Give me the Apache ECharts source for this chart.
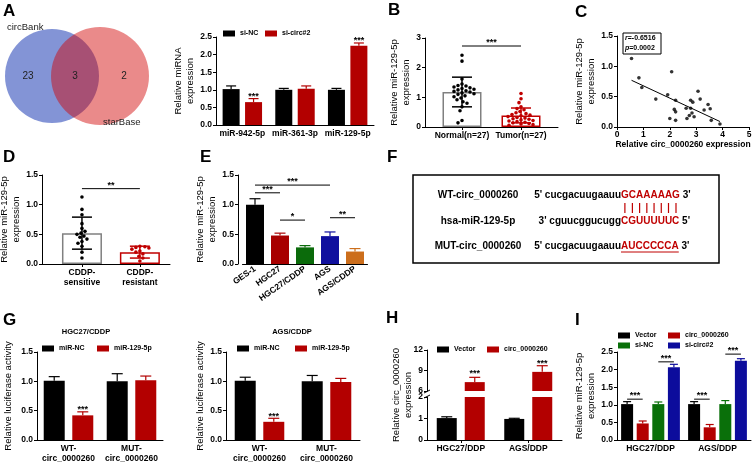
<!DOCTYPE html>
<html><head><meta charset="utf-8">
<script src="https://cdn.jsdelivr.net/npm/echarts@6/dist/echarts.min.js"></script>
<style>html,body{margin:0;padding:0;background:#fff}#c{width:753px;height:464px}</style>
</head><body><div id="c"></div><script>
/* ---------------- DATA ---------------- */
const vennSets = ['circBank', 'starBase'];
const vennCounts = [23, 3, 2];

const aCats = ['miR-942-5p', 'miR-361-3p', 'miR-129-5p'];
const aSiNC = [1.02, 1.00, 1.00];
const aSiNCErr = [0.09, 0.04, 0.04];
const aSiCirc = [0.65, 1.03, 2.25];
const aSiCircErr = [0.10, 0.08, 0.08];
const aStars = [[0, 1, 0.86, '***'], [2, 1, 2.47, '***']];

const bCats = ['Normal(n=27)', 'Tumor(n=27)'];
const bNormal = [2.42, 2.22, 1.62, 1.45, 1.40, 1.38, 1.35, 1.32, 1.30, 1.27, 1.25, 1.22, 1.20, 1.18, 1.15, 1.12, 1.10, 1.05, 1.02, 0.98, 0.92, 0.85, 0.80, 0.68, 0.55, 0.22, 0.14];
const bTumor = [1.13, 0.95, 0.82, 0.68, 0.62, 0.58, 0.52, 0.48, 0.45, 0.42, 0.40, 0.38, 0.35, 0.32, 0.30, 0.28, 0.26, 0.24, 0.22, 0.20, 0.18, 0.16, 0.14, 0.12, 0.10, 0.08, 0.06];
const bMean = [1.18, 0.39];
const bSD = [0.50, 0.25];
const bSig = [[1, 0, 2, 0, 2.73, '***']];

const cCirc = [0.55, 0.83, 0.94, 1.47, 2.07, 1.92, 2.22, 2.17, 2.22, 2.00, 2.22, 2.62, 2.65, 2.74, 2.79, 2.87, 2.79, 2.84, 2.92, 3.07, 3.15, 3.30, 3.45, 3.53, 3.57, 3.90];
const cMir = [1.13, 0.81, 0.65, 0.46, 0.91, 0.53, 0.44, 0.29, 0.25, 0.14, 0.11, 0.31, 0.14, 0.19, 0.44, 0.41, 0.31, 0.23, 0.17, 0.59, 0.46, 0.28, 0.37, 0.30, 0.11, 0.05];
const cFitX = [0.55, 3.90];
const cFitY = [0.77, 0.09];
const cStats = ['-0.6516', '0.0002'];

const dCats = ['CDDP-\nsensitive', 'CDDP-\nresistant'];
const dSensitive = [1.13, 0.92, 0.83, 0.68, 0.60, 0.55, 0.52, 0.50, 0.47, 0.45, 0.42, 0.38, 0.35, 0.30, 0.20, 0.10];
const dResistant = [0.30, 0.29, 0.28, 0.27, 0.25, 0.22, 0.20, 0.17, 0.13, 0.10, 0.05];
const dMean = [0.52, 0.20];
const dSD = [0.27, 0.10];
const dSig = [[1, 0, 2, 0, 1.27, '**']];

const eCats = ['GES-1', 'HGC27', 'HGC27/CDDP', 'AGS', 'AGS/CDDP'];
const eMean = [1.00, 0.48, 0.28, 0.47, 0.21];
const eErr = [0.10, 0.04, 0.03, 0.07, 0.05];
const eSig = [[0, 0, 3, 0, 1.33, '***'], [0, 0, 1, 0, 1.20, '***'], [1, 0, 2, 0, 0.74, '*'], [3, 0, 4, 0, 0.78, '**']];

const fLabels = ['WT-circ_0000260', 'hsa-miR-129-5p', 'MUT-circ_0000260'];
const fPrefix = ["5' cucgacuugaauu", "3' cguucggucugg", "5' cucgacuugaauu"];
const fSite = ['GCAAAAAG', 'CGUUUUUC', 'AUCCCCCA'];
const fSuffix = ["3'", "5'", "3'"];

const gCats = ['WT-\ncirc_0000260', 'MUT-\ncirc_0000260'];
const gTitles = ['HGC27/CDDP', 'AGS/CDDP'];
const gHgcNC = [1.01, 1.00], gHgcNCErr = [0.07, 0.13];
const gHgcMiR = [0.42, 1.02], gHgcMiRErr = [0.06, 0.07];
const gAgsNC = [1.01, 1.00], gAgsNCErr = [0.06, 0.10];
const gAgsMiR = [0.31, 0.99], gAgsMiRErr = [0.06, 0.06];
const gHgcStars = [[0, 1, 0.55, '***']];
const gAgsStars = [[0, 1, 0.43, '***']];

const hCats = ['HGC27/DDP', 'AGS/DDP'];
const hVector = [1.02, 0.98], hVectorErr = [0.06, 0.03];
const hCirc = [7.3, 8.8], hCircErr = [0.7, 0.9];
const hStars = [[0, 1, 8.78, '***'], [1, 1, 10.25, '***']];

const iCats = ['HGC27/DDP', 'AGS/DDP'];
const iVector = [1.02, 1.02], iVectorErr = [0.07, 0.07];
const iCirc = [0.47, 0.36], iCircErr = [0.07, 0.08];
const iSiNC = [1.02, 1.02], iSiNCErr = [0.06, 0.10];
const iSiCirc = [2.07, 2.25], iSiCircErr = [0.08, 0.06];
const iSig = [[0, 0, 0, 1, 1.16, '***'], [0, 2, 0, 3, 2.22, '***'], [1, 0, 1, 1, 1.16, '***'], [1, 2, 1, 3, 2.44, '***']];

/* ---------------- HELPERS ---------------- */
const FONT = '"Liberation Sans", Arial, Helvetica, sans-serif';
const RED = '#b30000';
const TICK = {fontFamily: FONT, fontSize: 8.5, fontWeight: 'bold', color: '#000'};
const TITLE = {fontFamily: FONT, fontSize: 9.5, color: '#000', lineHeight: 12};
const grids = [], xAxes = [], yAxes = [], series = [], legends = [], graphics = [];

function G(left, top, width, height) {
  grids.push({left, top, width, height, containLabel: false, outerBoundsMode: 'none'});
  return grids.length - 1;
}
function axLine() { return {show: true, onZero: false, lineStyle: {color: '#000', width: 1}}; }
function xCat(gi, cats, labelExtra, ticks) {
  return {type: 'category', gridIndex: gi, data: cats, boundaryGap: true,
    axisLine: axLine(),
    axisTick: {show: !!ticks, alignWithLabel: true, length: 3, lineStyle: {color: '#000'}},
    axisLabel: Object.assign({interval: 0, margin: 4, lineHeight: 10}, TICK, labelExtra || {}),
    splitLine: {show: false}};
}
function xValCat(gi, min, max, cats) {
  return {type: 'value', gridIndex: gi, min, max,
    axisLine: axLine(),
    axisTick: {show: true, length: 3, customValues: [1, 2], lineStyle: {color: '#000'}},
    axisLabel: Object.assign({margin: 4, lineHeight: 10, customValues: [1, 2],
      formatter: v => (Math.abs(v - Math.round(v)) < 1e-6 && cats[Math.round(v) - 1]) || ''}, TICK),
    splitLine: {show: false}};
}
function yVal(gi, min, max, interval, dec, name, gap, extra) {
  return Object.assign({type: 'value', gridIndex: gi, min, max, interval,
    axisLine: axLine(),
    axisTick: {show: true, length: 3, lineStyle: {color: '#000'}},
    splitLine: {show: false},
    axisLabel: Object.assign({margin: 4, formatter: v => v.toFixed(dec)}, TICK),
    name: name || '', nameLocation: 'middle', nameGap: gap || 0, nameTextStyle: TITLE}, extra || {});
}
function barOffset(n, w, gr, i) {
  const gap = w * gr; const total = n * w + (n - 1) * gap;
  return -total / 2 + i * (w + gap) + w / 2;
}
function addBar(gi, name, vals, color, w, gr) {
  series.push({type: 'bar', name, xAxisIndex: gi, yAxisIndex: gi, data: vals.slice(),
    barWidth: w, barGap: (gr * 100) + '%', itemStyle: {color}, z: 2, silent: true, clip: true});
}
function addErr(gi, xBase, means, errs, n, i, w, gr, color, both, cap, lw) {
  series.push({type: 'custom', xAxisIndex: gi, yAxisIndex: gi, clip: true, z: 4, silent: true,
    data: means.map((m, k) => [k + xBase, m, errs[k]]),
    renderItem: (p, api) => {
      const c = api.value(0), m = api.value(1), e = api.value(2);
      const col = Array.isArray(color) ? color[p.dataIndex] : color;
      const pm = api.coord([c, m]);
      const x = pm[0] + barOffset(n, w, gr, i);
      const yT = api.coord([c, m + e])[1];
      const yB = both ? api.coord([c, m - e])[1] : pm[1];
      const h = cap / 2, st = {stroke: col, lineWidth: lw};
      const ch = [{type: 'line', shape: {x1: x, y1: yB, x2: x, y2: yT}, style: st},
                  {type: 'line', shape: {x1: x - h, y1: yT, x2: x + h, y2: yT}, style: st}];
      if (both) ch.push({type: 'line', shape: {x1: x - h, y1: yB, x2: x + h, y2: yB}, style: st});
      return {type: 'group', children: ch};
    }});
}
function addSig(gi, items, n, w, gr, fs) {
  series.push({type: 'custom', xAxisIndex: gi, yAxisIndex: gi, clip: false, z: 6, silent: true,
    data: items.map(it => [it[0], it[4], it[1], it[2], it[3]]),
    renderItem: (p, api) => {
      const it = items[p.dataIndex];
      const pA = api.coord([it[0], it[4]]), pB = api.coord([it[2], it[4]]);
      const xA = pA[0] + barOffset(n, w, gr, it[1]), xB = pB[0] + barOffset(n, w, gr, it[3]);
      const y = pA[1];
      return {type: 'group', children: [
        {type: 'line', shape: {x1: xA, y1: y, x2: xB, y2: y}, style: {stroke: '#000', lineWidth: 1}},
        {type: 'text', x: (xA + xB) / 2, y: y - 3.5,
          style: {text: it[5], fill: '#000', font: 'bold ' + fs + 'px ' + FONT, align: 'center', verticalAlign: 'middle'}}]};
    }});
}
function addStars(gi, items, n, w, gr, fs) {
  series.push({type: 'custom', xAxisIndex: gi, yAxisIndex: gi, clip: false, z: 6, silent: true,
    data: items.map(it => [it[0], it[2], it[1]]),
    renderItem: (p, api) => {
      const it = items[p.dataIndex];
      const pt = api.coord([it[0], it[2]]);
      return {type: 'text', x: pt[0] + barOffset(n, w, gr, it[1]), y: pt[1] + 0.22 * fs,
        style: {text: it[3], fill: '#000', font: 'bold ' + fs + 'px ' + FONT, align: 'center', verticalAlign: 'middle'}};
    }});
}
function swarm(vals, ppu, d) {
  const placed = [], out = [];
  vals.forEach((v, idx) => {
    const y = v * ppu; let best = 0;
    for (let s = 0; s < 80; s++) {
      const cands = s === 0 ? [0] : (idx % 2 ? [s, -s] : [-s, s]);
      let found = null;
      for (const dx of cands) {
        if (placed.every(q => (q[0] - dx) * (q[0] - dx) + (q[1] - y) * (q[1] - y) >= d * d)) { found = dx; break; }
      }
      if (found !== null) { best = found; break; }
    }
    placed.push([best, y]); out.push(best);
  });
  return out;
}
function addDots(gi, xv, vals, color, size, ppu) {
  const offs = swarm(vals, ppu, size + 0.5);
  series.push({type: 'custom', xAxisIndex: gi, yAxisIndex: gi, z: 3, silent: true,
    data: vals.map((v, k) => [xv, v, offs[k]]),
    renderItem: (p, api) => {
      const pt = api.coord([api.value(0), api.value(1)]);
      return {type: 'circle', shape: {cx: pt[0] + api.value(2), cy: pt[1], r: size / 2}, style: {fill: color}};
    }});
}
function leg(name, left, top) {
  legends.push({data: [name], left, top, orient: 'horizontal', itemWidth: 12, itemHeight: 6, itemGap: 0,
    icon: 'rect', selectedMode: false, padding: 0,
    formatter: n => n.split('|')[1],
    textStyle: {fontFamily: FONT, fontSize: 7, fontWeight: 'bold', color: '#000'}});
}
function txt(text, x, y, font, extra) {
  graphics.push(Object.assign({type: 'text', x, y, silent: true,
    style: Object.assign({text, font, fill: '#000', align: 'left', verticalAlign: 'middle'}, (extra && extra.style) || {})},
    extra && extra.rotation !== undefined ? {rotation: extra.rotation} : {}));
}

/* ---------------- PANEL A ---------------- */
const vBlue = {cx: 52, cy: 76, r: 47}, vRed = {cx: 100, cy: 76, r: 49};
graphics.push({type: 'circle', shape: vBlue, style: {fill: '#8394d6'}, silent: true});
graphics.push({type: 'circle', shape: vRed, style: {fill: 'rgba(210,0,0,0.46)'}, silent: true});
const vx = [(vBlue.cx - vBlue.r + vRed.cx - vRed.r) / 2, (vRed.cx - vRed.r + vBlue.cx + vBlue.r) / 2, (vBlue.cx + vBlue.r + vRed.cx + vRed.r) / 2];
vennCounts.forEach((c, k) => txt(String(c), vx[k], 76, '10px ' + FONT, {style: {align: 'center', fill: '#222'}}));
txt(vennSets[0], 7, 27, '9.5px ' + FONT, {style: {fill: '#222'}});
txt(vennSets[1], 103, 122, '9.5px ' + FONT, {style: {fill: '#222'}});

const gA = G(216, 37, 158, 88);
xAxes.push(xCat(gA, aCats));
yAxes.push(yVal(gA, 0, 2.5, 0.5, 1, 'Relative miRNA\nexpression', 16));
addBar(gA, 'A|si-NC', aSiNC, '#000', 17, 0.32);
addBar(gA, 'A|si-circ#2', aSiCirc, RED, 17, 0.32);
addErr(gA, 0, aSiNC, aSiNCErr, 2, 0, 17, 0.32, '#000', false, 10, 1.2);
addErr(gA, 0, aSiCirc, aSiCircErr, 2, 1, 17, 0.32, RED, false, 10, 1.2);
addStars(gA, aStars, 2, 17, 0.32, 9);
leg('A|si-NC', 223, 30); leg('A|si-circ#2', 265, 30);

/* ---------------- PANEL B ---------------- */
const gB = G(425, 38, 133, 89);
xAxes.push(xValCat(gB, 0.373, 2.627, bCats));
yAxes.push(yVal(gB, 0, 3, 1, 0, 'Relative miR-129-5p\nexpression', 10));
const bBorder = ['#808080', '#c00000'];
series.push({type: 'bar', xAxisIndex: gB, yAxisIndex: gB, barWidth: 39, z: 2, silent: true,
  data: bMean.map((m, k) => ({value: [k + 1, m], itemStyle: {color: '#fff', borderColor: bBorder[k], borderWidth: 1.5}}))});
addDots(gB, 1, bNormal, '#000', 3.6, 89 / 3);
addDots(gB, 2, bTumor, '#c00000', 3.6, 89 / 3);
addErr(gB, 1, bMean, bSD, 1, 0, 39, 0, ['#000', '#c00000'], true, 20, 1.5);
addSig(gB, bSig, 1, 39, 0, 9);

/* ---------------- PANEL C ---------------- */
const gC = G(617, 36, 132, 91);
xAxes.push({type: 'value', gridIndex: gC, min: 0, max: 5, interval: 1,
  axisLine: axLine(), axisTick: {show: true, length: 3, lineStyle: {color: '#000'}},
  axisLabel: Object.assign({margin: 3}, TICK), splitLine: {show: false},
  name: 'Relative circ_0000260 expression', nameLocation: 'middle', nameGap: 11,
  nameTextStyle: {fontFamily: FONT, fontSize: 8.5, fontWeight: 'bold', color: '#000'}});
yAxes.push(yVal(gC, 0, 1.5, 0.5, 1, 'Relative miR-129-5p\nexpression', 20));
series.push({type: 'scatter', xAxisIndex: gC, yAxisIndex: gC, symbolSize: 3.6, itemStyle: {color: '#000'}, silent: true,
  data: cCirc.map((x, k) => [x, cMir[k]])});
series.push({type: 'line', xAxisIndex: gC, yAxisIndex: gC, symbol: 'none', silent: true,
  lineStyle: {color: '#000', width: 1}, data: cFitX.map((x, k) => [x, cFitY[k]])});
graphics.push({type: 'rect', shape: {x: 623, y: 33, width: 38, height: 21}, style: {fill: '#fff', stroke: '#000', lineWidth: 1}, silent: true});
graphics.push({type: 'text', x: 625, y: 38.5, silent: true, style: {rich: {i: {fontStyle: 'italic', fontWeight: 'bold', fontSize: 7, fontFamily: FONT}, b: {fontWeight: 'bold', fontSize: 7, fontFamily: FONT}},
  text: '{i|r}{b|=' + cStats[0] + '}', verticalAlign: 'middle', fill: '#000'}});
graphics.push({type: 'text', x: 625, y: 48.5, silent: true, style: {rich: {i: {fontStyle: 'italic', fontWeight: 'bold', fontSize: 7, fontFamily: FONT}, b: {fontWeight: 'bold', fontSize: 7, fontFamily: FONT}},
  text: '{i|p}{b|=' + cStats[1] + '}', verticalAlign: 'middle', fill: '#000'}});

/* ---------------- PANEL D ---------------- */
const gD = G(42, 175, 128, 89);
xAxes.push(xValCat(gD, 0.31, 2.52, dCats));
yAxes.push(yVal(gD, 0, 1.5, 0.5, 1, 'Relative miR-129-5p\nexpression', 17));
series.push({type: 'bar', xAxisIndex: gD, yAxisIndex: gD, barWidth: 40, z: 2, silent: true,
  data: dMean.map((m, k) => ({value: [k + 1, m], itemStyle: {color: '#fff', borderColor: bBorder[k], borderWidth: 1.5}}))});
addDots(gD, 1, dSensitive, '#000', 3.6, 89 / 1.5);
addDots(gD, 2, dResistant, '#c00000', 3.6, 89 / 1.5);
addErr(gD, 1, dMean, dSD, 1, 0, 40, 0, ['#000', '#c00000'], true, 20, 1.5);
addSig(gD, dSig, 1, 40, 0, 9);

/* ---------------- PANEL E ---------------- */
const eColors = ['#000000', '#a80000', '#0b6b0b', '#10109e', '#cc6e1c'];
const gE = G(242.5, 175, 125, 89);
xAxes.push(xCat(gE, eCats, {rotate: 35, margin: 4}));
yAxes.push(yVal(gE, 0, 1.5, 0.5, 1, 'Relative miR-129-5p\nexpression', 18, {offset: 4.5}));
series.push({type: 'bar', xAxisIndex: gE, yAxisIndex: gE, barWidth: 18, z: 2, silent: true,
  data: eMean.map((m, k) => ({value: m, itemStyle: {color: eColors[k]}}))});
addErr(gE, 0, eMean, eErr, 1, 0, 18, 0, eColors, false, 11, 1.2);
addSig(gE, eSig, 1, 18, 0, 9);

/* ---------------- PANEL F ---------------- */
const fFont = 'bold 10px ' + FONT;
const mctx = document.createElement('canvas').getContext('2d');
mctx.font = 'bold 10px "Liberation Sans", Arial';
const fRowY = [195, 221, 246], fSiteX = 621, fLabelX = 478, FRED = '#c00000';
graphics.push({type: 'rect', shape: {x: 413, y: 175, width: 306, height: 88}, style: {fill: 'none', stroke: '#000', lineWidth: 1.5}, silent: true});
fLabels.forEach((lab, r) => {
  const y = fRowY[r];
  txt(lab, fLabelX, y, fFont, {style: {align: 'center'}});
  txt(fPrefix[r], fSiteX, y, fFont, {style: {align: 'right'}});
  txt(fSite[r], fSiteX, y, fFont, {style: {fill: FRED}});
  const sw = mctx.measureText(fSite[r]).width;
  txt(' ' + fSuffix[r], fSiteX + sw, y, fFont);
  if (r === 2) graphics.push({type: 'line', shape: {x1: fSiteX, y1: y + 6, x2: fSiteX + sw, y2: y + 6}, style: {stroke: FRED, lineWidth: 1}, silent: true});
});
for (let k = 0; k < fSite[0].length; k++) {
  const cx = fSiteX + mctx.measureText(fSite[0].slice(0, k)).width + mctx.measureText(fSite[0][k]).width / 2;
  graphics.push({type: 'line', shape: {x1: cx, y1: 203, x2: cx, y2: 213}, style: {stroke: FRED, lineWidth: 1.2}, silent: true});
}

/* ---------------- PANEL G ---------------- */
const gG1 = G(37, 352, 126, 88);
const gG2 = G(226, 352, 134, 88);
[[gG1, gHgcNC, gHgcNCErr, gHgcMiR, gHgcMiRErr, gHgcStars, 23, 42, 97, 86],
 [gG2, gAgsNC, gAgsNCErr, gAgsMiR, gAgsMiRErr, gAgsStars, 15, 237, 295, 292]].forEach((cfg, j) => {
  const [gi, nc, ncE, mi, miE, st, gap, l1, l2, tx] = cfg;
  xAxes.push(xCat(gi, gCats));
  yAxes.push(yVal(gi, 0, 1.5, 0.5, 1, 'Relative luciferase activity', gap));
  addBar(gi, 'G|miR-NC', nc, '#000', 21, 0.36);
  addBar(gi, 'G|miR-129-5p', mi, RED, 21, 0.36);
  addErr(gi, 0, nc, ncE, 2, 0, 21, 0.36, '#000', false, 11, 1.2);
  addErr(gi, 0, mi, miE, 2, 1, 21, 0.36, RED, false, 11, 1.2);
  addStars(gi, st, 2, 21, 0.36, 9);
  leg('G|miR-NC', l1, 345); leg('G|miR-129-5p', l2, 345);
  txt(gTitles[j], tx, 332, 'bold 7.5px ' + FONT, {style: {align: 'center'}});
});

/* ---------------- PANEL H ---------------- */
const gHu = G(427, 350, 135, 41);
const gHl = G(427, 397, 135, 43);
xAxes.push({type: 'category', gridIndex: gHu, data: hCats, show: false});
yAxes.push(yVal(gHu, 6, 12, 3, 0));
xAxes.push(xCat(gHl, hCats, null, true));
yAxes.push(yVal(gHl, 0, 2, 1, 0));
[gHu, gHl].forEach(gi => {
  addBar(gi, 'H|Vector', hVector, '#000', 20, 0.4);
  addBar(gi, 'H|circ_0000260', hCirc, RED, 20, 0.4);
  addErr(gi, 0, hVector, hVectorErr, 2, 0, 20, 0.4, '#000', false, 11, 1.2);
  addErr(gi, 0, hCirc, hCircErr, 2, 1, 20, 0.4, RED, false, 11, 1.2);
});
addStars(gHu, hStars, 2, 20, 0.4, 9);
leg('H|Vector', 437, 346); leg('H|circ_0000260', 487, 346);
txt('Relative circ_0000260\nexpression', 402, 395, '9.5px ' + FONT, {rotation: Math.PI / 2, style: {align: 'center', lineHeight: 12}});
graphics.push({type: 'line', shape: {x1: 424, y1: 393, x2: 430, y2: 390}, style: {stroke: '#000', lineWidth: 1}, silent: true});
graphics.push({type: 'line', shape: {x1: 424, y1: 398, x2: 430, y2: 395}, style: {stroke: '#000', lineWidth: 1}, silent: true});

/* ---------------- PANEL I ---------------- */
const gI = G(617, 352, 134, 88);
xAxes.push(xCat(gI, iCats));
yAxes.push(yVal(gI, 0, 2.5, 0.5, 1, 'Relative miR-129-5p\nexpression', 17));
const iSeries = [['I|Vector', iVector, iVectorErr, '#000'], ['I|circ_0000260', iCirc, iCircErr, RED],
                 ['I|si-NC', iSiNC, iSiNCErr, '#0a700a'], ['I|si-circ#2', iSiCirc, iSiCircErr, '#0c0c9c']];
iSeries.forEach((s, k) => addBar(gI, s[0], s[1], s[3], 12, 0.3));
iSeries.forEach((s, k) => addErr(gI, 0, s[1], s[2], 4, k, 12, 0.3, s[3], false, 8, 1.2));
addSig(gI, iSig, 4, 12, 0.3, 9);
leg('I|Vector', 618, 332); leg('I|circ_0000260', 668, 332);
leg('I|si-NC', 618, 342); leg('I|si-circ#2', 668, 342);

/* ---------------- PANEL LETTERS ---------------- */
[['A', 3, 3], ['B', 388, 2], ['C', 575, 4], ['D', 3, 149], ['E', 200, 149], ['F', 387, 149], ['G', 3, 312], ['H', 386, 310], ['I', 575, 312]]
  .forEach(L => graphics.push({type: 'text', x: L[1], y: L[2], silent: true,
    style: {text: L[0], font: 'bold 17px ' + FONT, fill: '#000', align: 'left', verticalAlign: 'top'}}));

const chart = echarts.init(document.getElementById('c'));
chart.setOption({
  animation: false, backgroundColor: '#fff', textStyle: {fontFamily: FONT},
  grid: grids, xAxis: xAxes, yAxis: yAxes, series, legend: legends,
  graphic: {elements: graphics}
});
</script></body></html>
